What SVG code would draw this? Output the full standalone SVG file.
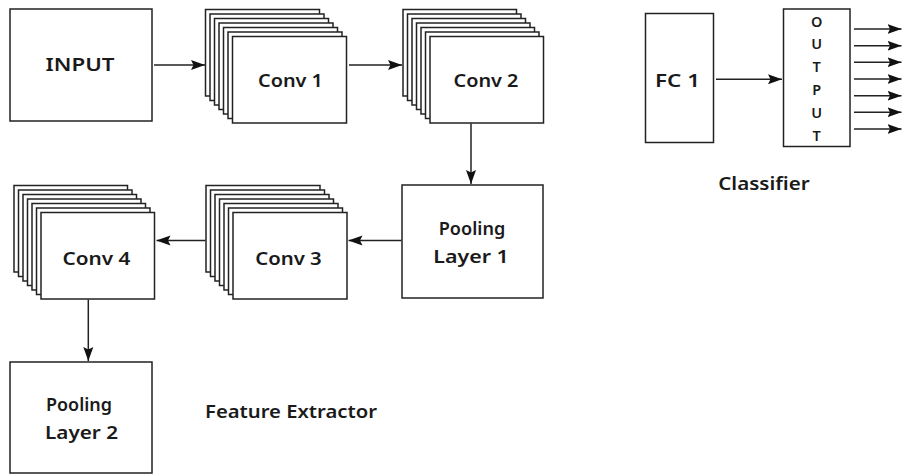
<svg xmlns="http://www.w3.org/2000/svg" width="902" height="475" viewBox="0 0 902 475">
  <style>
    .box { fill: #ffffff; stroke: #222222; stroke-width: 1.5; }
    .wire { fill: none; stroke: #222222; stroke-width: 1.5; marker-end: url(#head); }
    .lbl { font-family: "Noto Sans", "DejaVu Sans", sans-serif; font-size: 18.5px; font-weight: 600; fill: #1a1a1a; text-anchor: middle; }
    .small { font-size: 14.5px; }
    .cap { text-anchor: start; }
  </style>
  <defs>
    <marker id="head" markerUnits="userSpaceOnUse" markerWidth="14" markerHeight="11" refX="14" refY="5.5" orient="auto">
      <path d="M0,0.5 L14,5.5 L0,10.5 L2.5,5.5 Z" fill="#111111"/>
    </marker>
  </defs>

  <rect width="902" height="475" fill="#ffffff"/>

  <!-- Feature extractor -->
  <g id="input">
    <rect class="box" x="10" y="9" width="142" height="112"/>
    <text class="lbl" x="80" y="71" textLength="69" lengthAdjust="spacingAndGlyphs">INPUT</text>
  </g>

  <g id="conv1">
    <rect class="box" x="205.5" y="9.5" width="114" height="86.5"/>
    <rect class="box" x="210" y="14" width="114" height="86.5"/>
    <rect class="box" x="214.5" y="18.5" width="114" height="86.5"/>
    <rect class="box" x="219" y="23" width="114" height="86.5"/>
    <rect class="box" x="223.5" y="27.5" width="114" height="86.5"/>
    <rect class="box" x="228" y="32" width="114" height="86.5"/>
    <rect class="box" x="232.5" y="36.5" width="114" height="86.5"/>
    <text class="lbl" x="290.5" y="86.5" textLength="65" lengthAdjust="spacingAndGlyphs">Conv 1</text>
  </g>

  <g id="conv2">
    <rect class="box" x="403" y="9.5" width="113.5" height="86.5"/>
    <rect class="box" x="407.5" y="14" width="113.5" height="86.5"/>
    <rect class="box" x="412" y="18.5" width="113.5" height="86.5"/>
    <rect class="box" x="416.5" y="23" width="113.5" height="86.5"/>
    <rect class="box" x="421" y="27.5" width="113.5" height="86.5"/>
    <rect class="box" x="425.5" y="32" width="113.5" height="86.5"/>
    <rect class="box" x="430" y="36.5" width="113.5" height="86.5"/>
    <text class="lbl" x="486" y="86.5" textLength="65" lengthAdjust="spacingAndGlyphs">Conv 2</text>
  </g>

  <g id="pool1">
    <rect class="box" x="402" y="185" width="141" height="113"/>
    <text class="lbl" x="472" y="235" textLength="66.5" lengthAdjust="spacingAndGlyphs">Pooling</text>
    <text class="lbl" x="471" y="263" textLength="75.5" lengthAdjust="spacingAndGlyphs">Layer 1</text>
  </g>

  <g id="conv3">
    <rect class="box" x="206" y="185.5" width="114" height="86.5"/>
    <rect class="box" x="210.5" y="190" width="114" height="86.5"/>
    <rect class="box" x="215" y="194.5" width="114" height="86.5"/>
    <rect class="box" x="219.5" y="199" width="114" height="86.5"/>
    <rect class="box" x="224" y="203.5" width="114" height="86.5"/>
    <rect class="box" x="228.5" y="208" width="114" height="86.5"/>
    <rect class="box" x="233" y="212.5" width="114" height="86.5"/>
    <text class="lbl" x="288.5" y="264.5" textLength="66.5" lengthAdjust="spacingAndGlyphs">Conv 3</text>
  </g>

  <g id="conv4">
    <rect class="box" x="14" y="185.5" width="113.5" height="86.5"/>
    <rect class="box" x="18.5" y="190" width="113.5" height="86.5"/>
    <rect class="box" x="23" y="194.5" width="113.5" height="86.5"/>
    <rect class="box" x="27.5" y="199" width="113.5" height="86.5"/>
    <rect class="box" x="32" y="203.5" width="113.5" height="86.5"/>
    <rect class="box" x="36.5" y="208" width="113.5" height="86.5"/>
    <rect class="box" x="41" y="212.5" width="113.5" height="86.5"/>
    <text class="lbl" x="96.5" y="264.5" textLength="68" lengthAdjust="spacingAndGlyphs">Conv 4</text>
  </g>

  <g id="pool2">
    <rect class="box" x="10" y="362" width="142" height="111"/>
    <text class="lbl" x="79" y="411" textLength="66" lengthAdjust="spacingAndGlyphs">Pooling</text>
    <text class="lbl" x="81.5" y="439" textLength="73" lengthAdjust="spacingAndGlyphs">Layer 2</text>
  </g>

  <text id="feature-extractor" class="lbl cap" x="205" y="418" textLength="172" lengthAdjust="spacingAndGlyphs">Feature Extractor</text>

  <!-- Classifier -->
  <g id="fc1">
    <rect class="box" x="645.5" y="13.5" width="68" height="129"/>
    <text class="lbl" x="677.5" y="87" textLength="45" lengthAdjust="spacingAndGlyphs">FC 1</text>
  </g>

  <g id="output">
    <rect class="box" x="783.5" y="9" width="66.5" height="137.5"/>
    <text class="lbl small" x="816.7" y="26.5">O</text>
    <text class="lbl small" x="816.7" y="49.4">U</text>
    <text class="lbl small" x="816.7" y="72.3">T</text>
    <text class="lbl small" x="816.7" y="95.2">P</text>
    <text class="lbl small" x="816.7" y="118.1">U</text>
    <text class="lbl small" x="816.7" y="141">T</text>
  </g>

  <text id="classifier" class="lbl" x="764" y="190" textLength="91.5" lengthAdjust="spacingAndGlyphs">Classifier</text>

  <!-- Connectors -->
  <g id="connectors">
    <path class="wire" d="M154,65 H205"/>
    <path class="wire" d="M349,65 H402"/>
    <path class="wire" d="M471,123.5 V184"/>
    <path class="wire" d="M401.5,240.5 H348.5"/>
    <path class="wire" d="M205.5,240.5 H156.5"/>
    <path class="wire" d="M88.3,299.5 V361"/>
    <path class="wire" d="M716,79.3 H782"/>
    <path class="wire" d="M854,29 H901.5"/>
    <path class="wire" d="M854,45.7 H901.5"/>
    <path class="wire" d="M854,62.3 H901.5"/>
    <path class="wire" d="M854,79 H901.5"/>
    <path class="wire" d="M854,95.7 H901.5"/>
    <path class="wire" d="M854,112.3 H901.5"/>
    <path class="wire" d="M854,129 H901.5"/>
  </g>
</svg>
